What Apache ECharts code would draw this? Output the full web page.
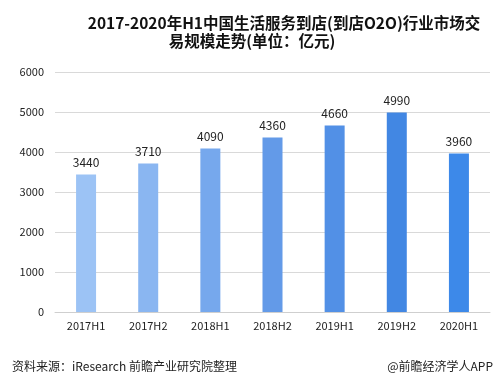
<!DOCTYPE html>
<html><head><meta charset="utf-8">
<script src="https://cdn.jsdelivr.net/npm/echarts@6/dist/echarts.min.js"></script>
<style>html,body{margin:0;padding:0;background:#fff}#c{width:499px;height:386px}</style>
</head><body><div id="c"></div>
<script>
var categories = ['2017H1','2017H2','2018H1','2018H2','2019H1','2019H2','2020H1'];
var values = [3440,3710,4090,4360,4660,4990,3960];
var barColors = ['#9cc3f5','#8ab6f1','#76a8ed','#639ae8','#5290e6','#4287e3','#3d89e9'];
var yTicks = {min:0,max:6000,interval:1000};
var titleLine1 = '2017-2020年H1中国生活服务到店(到店O2O)行业市场交';
var titleLine2 = '易规模走势(单位：亿元)';
var sourceText = '资料来源：iResearch 前瞻产业研究院整理';
var brandText = '@前瞻经济学人APP';

var chart = echarts.init(document.getElementById('c'));
var ff = '"Microsoft YaHei","Noto Sans CJK SC",sans-serif';
chart.setOption({
  animation:false,
  textStyle:{fontFamily:ff},
  title:[
    {text:titleLine1,left:279,top:10,textAlign:'center',textStyle:{fontSize:15.5,fontWeight:'bold',color:'#111',fontFamily:ff}},
    {text:titleLine2,left:247,top:28,textAlign:'center',textStyle:{fontSize:15.5,fontWeight:'bold',color:'#111',fontFamily:ff}},
    {text:sourceText,left:7,top:355,textStyle:{fontSize:12,fontWeight:'normal',color:'#222',fontFamily:ff}},
    {text:brandText,right:1,top:355,textStyle:{fontSize:12,fontWeight:'normal',color:'#222',fontFamily:ff}}
  ],
  grid:{left:55,right:9,top:72,bottom:74,containLabel:false},
  xAxis:{type:'category',data:categories,
    axisLine:{lineStyle:{color:'#cfcfcf'}},axisTick:{show:false},
    axisLabel:{color:'#222',fontSize:11,margin:8}},
  yAxis:{type:'value',min:yTicks.min,max:yTicks.max,interval:yTicks.interval,
    axisLine:{show:false},axisTick:{show:false},
    axisLabel:{color:'#222',fontSize:11,margin:11,formatter:function(v){return String(v);}},
    splitLine:{lineStyle:{color:'#d9d9d9'}}},
  series:[{type:'bar',barWidth:20,
    data:values.map(function(v,i){return {value:v,itemStyle:{color:barColors[i]}};}),
    label:{show:true,position:'top',distance:6,color:'#222',fontSize:12}}]
});
</script></body></html>
